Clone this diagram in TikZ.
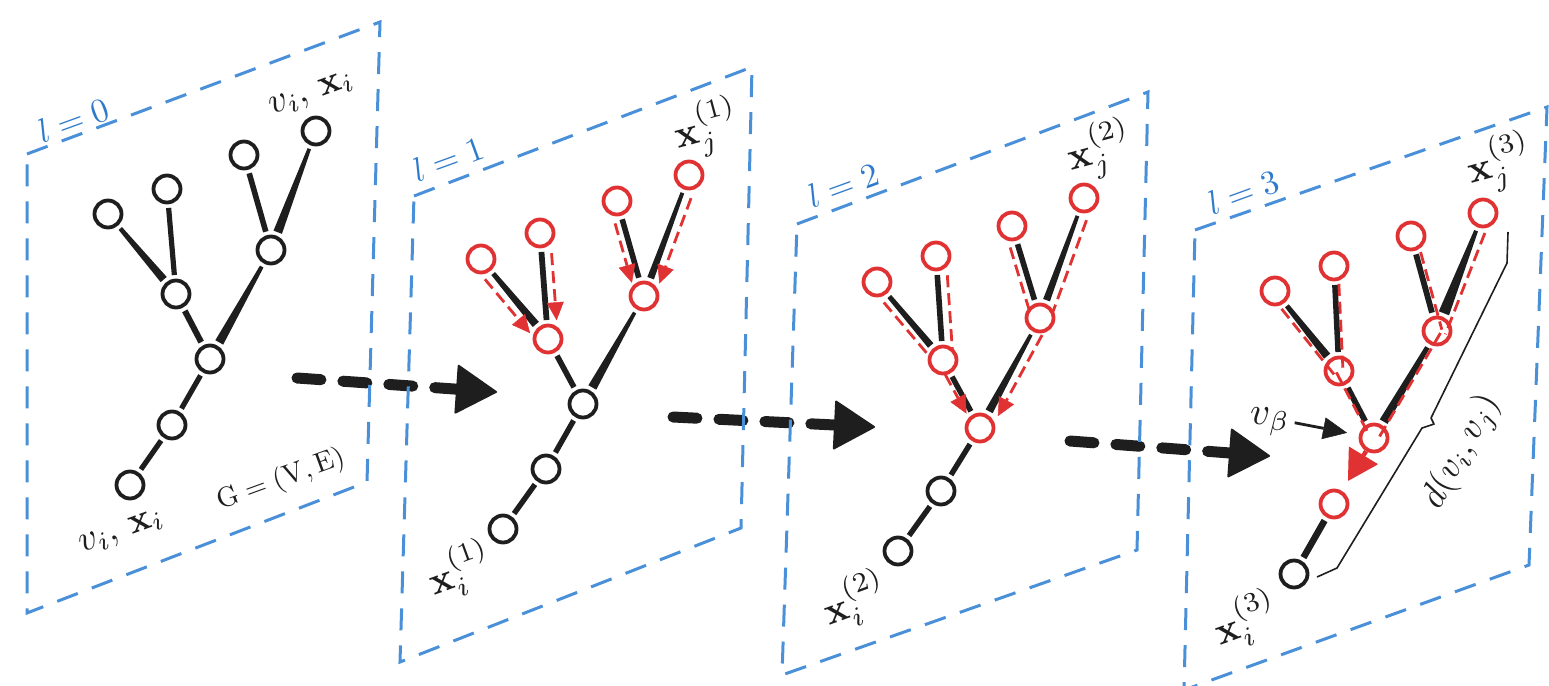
\documentclass[tikz,border=0pt]{standalone}
\usetikzlibrary{calc,arrows.meta}
\definecolor{ink}{HTML}{1E1E1E}
\definecolor{msgred}{HTML}{E03232}
\definecolor{planeblue}{HTML}{4A90D9}
\definecolor{labelblue}{HTML}{2F7BCB}
% tapered black edge between two nodes: from, to, half width at from, half width at to
\newcommand\tedge[4]{%
  \path ($(#1)!19pt!(#2)$) coordinate (tS) ($(#2)!19pt!(#1)$) coordinate (tE);
  \fill[ink] ($(tS)!#3!90:(tE)$) -- ($(tE)!#4!-90:(tS)$) -- ($(tE)!#4!90:(tS)$) -- ($(tS)!#3!-90:(tE)$) -- cycle;}
% red message line parallel to an edge: [style]{from}{to}{offset}{side angle}{shorten start}{shorten end}
\newcommand\mline[7][msg]{%
  \path ($(#2)!#4!#5:(#3)$) coordinate (mS);
  \path ($(#3)+(mS)-(#2)$) coordinate (mE);
  \draw[#1,shorten <=#6,shorten >=#7] (mS) -- (mE);}
\begin{document}
\begin{tikzpicture}[x=1pt,y=-1pt,
  vtx/.style={circle,draw=ink,line width=3.8pt,minimum size=27pt,inner sep=0pt},
  rvtx/.style={vtx,draw=msgred},
  plane/.style={draw=planeblue,line width=3pt,dash pattern=on 22pt off 15pt},
  lvl/.style={text=labelblue,scale=3.4,rotate=20,inner sep=0pt},
  lab/.style={text=ink,inner sep=0pt},
  bigarrow/.style={draw=ink,line width=11pt,line cap=round,dash pattern=on 24pt off 22pt,
    -{Triangle[length=42pt 0 0,width=50pt 0 0,line width=2pt,round]}},
  msg/.style={draw=msgred,line width=2.8pt,dash pattern=on 12pt off 6pt},
  msghead/.style={msg,-{Triangle[length=18pt 0 0,width=17pt 0 0,line width=0.5pt]}},
]
\useasboundingbox (0,0) rectangle (1549,685);

% big transition arrows
\coordinate (ar1s) at (297,378); \coordinate (ar1e) at (497,392);
\coordinate (ar2s) at (673,417); \coordinate (ar2e) at (875,427);
\coordinate (ar3s) at (1070,441); \coordinate (ar3e) at (1270,456);
\draw[bigarrow] (ar1s) -- (ar1e);
\draw[bigarrow] (ar2s) -- (ar2e);
\draw[bigarrow] (ar3s) -- (ar3e);

% planes
\draw[plane] (27,154) -- (380,22) -- (367,482) -- (27,613) -- cycle;
\draw[plane] (414,196) -- (752,67) -- (741,528) -- (400,662) -- cycle;
\draw[plane] (797,224) -- (1148,92) -- (1137,550) -- (782,675) -- cycle;
\draw[plane] (1195,230) -- (1547,107) -- (1529,565) -- (1184,690) -- cycle;

% ---------- panel l=0 ----------
\node[vtx] (p0n1) at (130,485) {};
\node[vtx] (p0n2) at (172,425) {};
\node[vtx] (p0n3) at (210,359) {};
\node[vtx] (p0n4) at (176,294) {};
\node[vtx] (p0n5) at (271,250) {};
\node[vtx] (p0la) at (108,214) {};
\node[vtx] (p0lb) at (167,189) {};
\node[vtx] (p0lc) at (244,155) {};
\node[vtx] (p0ld) at (316,131) {};
\tedge{p0n1}{p0n2}{2.6pt}{2.6pt}
\tedge{p0n2}{p0n3}{2.6pt}{2.6pt}
\tedge{p0n4}{p0n3}{3pt}{3pt}
\tedge{p0n5}{p0n3}{2pt}{4.5pt}
\tedge{p0la}{p0n4}{2.2pt}{4pt}
\tedge{p0lb}{p0n4}{2.6pt}{2.6pt}
\tedge{p0lc}{p0n5}{2.8pt}{2.8pt}
\tedge{p0ld}{p0n5}{1.8pt}{4.5pt}
\node[lvl] (p0lev) at (73,120) {$l = 0$};
\node[lab,scale=3.7,rotate=20] (p0top) at (312,95) {$v_i,\,\mathbf{x}_i$};
\node[lab,scale=3.7,rotate=20] (p0bot) at (122,533) {$v_i,\,\mathbf{x}_i$};
\node[lab,scale=2.8,rotate=20] (p0g) at (281,480) {$\mathrm{G} = (\mathrm{V}, \mathrm{E})$};

% ---------- panel l=1 ----------
\node[vtx] (p1n1) at (503,529) {};
\node[vtx] (p1n2) at (546,469) {};
\node[vtx] (p1n3) at (583,404) {};
\node[rvtx] (p1n4) at (548,339) {};
\node[rvtx] (p1n5) at (644,296) {};
\node[rvtx] (p1la) at (481,259) {};
\node[rvtx] (p1lb) at (540,233) {};
\node[rvtx] (p1lc) at (617,201) {};
\node[rvtx] (p1ld) at (689,175) {};
\tedge{p1n1}{p1n2}{2.7pt}{2.7pt}
\tedge{p1n2}{p1n3}{2.7pt}{2.7pt}
\tedge{p1n4}{p1n3}{2.8pt}{2.8pt}
\tedge{p1n5}{p1n3}{1.8pt}{4.5pt}
\tedge{p1la}{p1n4}{2.4pt}{4pt}
\tedge{p1lb}{p1n4}{2.9pt}{2.9pt}
\tedge{p1lc}{p1n5}{2.8pt}{2.8pt}
\tedge{p1ld}{p1n5}{1.9pt}{3.5pt}
\mline[msghead]{p1la}{p1n4}{10pt}{-90}{18pt}{16pt}
\mline[msghead]{p1lb}{p1n4}{10pt}{90}{21pt}{18pt}
\mline[msghead]{p1lc}{p1n5}{8pt}{-90}{21pt}{16pt}
\mline[msghead]{p1ld}{p1n5}{10pt}{90}{21pt}{17pt}
\node[lvl] (p1lev) at (448,159) {$l = 1$};
\node[lab,scale=3.9,rotate=15] (p1xj) at (707,128) {$\mathbf{x}_j^{(1)}$};
\node[lab,scale=3.9,rotate=20] (p1xi) at (460,570) {$\mathbf{x}_i^{(1)}$};

% ---------- panel l=2 ----------
\node[vtx] (p2n1) at (898,551) {};
\node[vtx] (p2n2) at (941,491) {};
\node[rvtx] (p2n3) at (980,428) {};
\node[rvtx] (p2n4) at (943,360) {};
\node[rvtx] (p2n5) at (1040,318) {};
\node[rvtx] (p2la) at (877,282) {};
\node[rvtx] (p2lb) at (936,256) {};
\node[rvtx] (p2lc) at (1012,226) {};
\node[rvtx] (p2ld) at (1084,198) {};
\tedge{p2n1}{p2n2}{2.7pt}{2.7pt}
\tedge{p2n2}{p2n3}{2.7pt}{2.7pt}
\tedge{p2n4}{p2n3}{2.7pt}{2.7pt}
\tedge{p2n5}{p2n3}{1.9pt}{4pt}
\tedge{p2la}{p2n4}{2.4pt}{3.5pt}
\tedge{p2lb}{p2n4}{2.8pt}{2.8pt}
\tedge{p2lc}{p2n5}{2.8pt}{2.8pt}
\tedge{p2ld}{p2n5}{1.9pt}{3.6pt}
\mline{p2la}{p2n4}{8pt}{-90}{20pt}{14pt}
\mline{p2lb}{p2n4}{10pt}{90}{20pt}{8pt}
\mline{p2lc}{p2n5}{8pt}{-90}{20pt}{10pt}
\mline{p2ld}{p2n5}{10pt}{90}{20pt}{10pt}
\mline[msghead]{p2n4}{p2n3}{5pt}{-90}{14pt}{19pt}
\mline[msghead]{p2n5}{p2n3}{10pt}{90}{14pt}{19pt}
\node[lvl] (p2lev) at (843,185) {$l = 2$};
\node[lab,scale=3.9,rotate=15] (p2xj) at (1100,150) {$\mathbf{x}_j^{(2)}$};
\node[lab,scale=3.9,rotate=20] (p2xi) at (855,600) {$\mathbf{x}_i^{(2)}$};

% ---------- panel l=3 ----------
\node[vtx] (p3n1) at (1294,574) {};
\node[rvtx] (p3n2) at (1334,504) {};
\node[rvtx] (p3n3) at (1374,438) {};
\node[rvtx] (p3n4) at (1339,371) {};
\node[rvtx] (p3n5) at (1437,331) {};
\node[rvtx] (p3la) at (1275,291) {};
\node[rvtx] (p3lb) at (1334,266) {};
\node[rvtx] (p3lc) at (1411,236) {};
\node[rvtx] (p3ld) at (1483,213) {};
\tedge{p3n1}{p3n2}{3.3pt}{3.3pt}
\tedge{p3n4}{p3n3}{2.9pt}{2.9pt}
\tedge{p3n5}{p3n3}{2.4pt}{4.5pt}
\tedge{p3la}{p3n4}{2.4pt}{4pt}
\tedge{p3lb}{p3n4}{2.8pt}{2.8pt}
\tedge{p3lc}{p3n5}{2.9pt}{2.9pt}
\tedge{p3ld}{p3n5}{2pt}{5.5pt}
\mline{p3la}{p3n4}{6pt}{-90}{18pt}{0pt}
\mline{p3n4}{p3n3}{3pt}{-90}{0pt}{4pt}
\mline{p3lb}{p3n4}{4pt}{90}{18pt}{0pt}
\mline{p3lc}{p3n5}{5pt}{90}{18pt}{0pt}
\mline{p3ld}{p3n5}{9pt}{90}{18pt}{0pt}
\mline{p3n5}{p3n3}{4pt}{90}{0pt}{4pt}
\draw[msgred,line width=4.5pt,shorten <=0pt,shorten >=12pt,
  -{Triangle[length=30pt 0 0,width=34pt 0 0,line width=1pt,round]}] (p3n3) -- (p3n2);
\node[lvl] (p3lev) at (1243,192) {$l = 3$};
\node[lab,scale=3.9,rotate=15] (p3xj) at (1500,163) {$\mathbf{x}_j^{(3)}$};
\node[lab,scale=3.9,rotate=20] (p3xi) at (1246,620) {$\mathbf{x}_i^{(3)}$};
\node[lab,scale=3.9] (vb) at (1270,422) {$v_\beta$};
\draw[ink,line width=2.8pt,shorten <=4pt,shorten >=12pt,
  -{Triangle[length=24pt 0 0,width=22pt 0 0,line width=0.5pt]}] (vb.east) -- (p3n3);
% brace d(v_i, v_j)
\draw[ink,line width=1.6pt,line join=round]
  (1317,577) -- (1337,568) -- (1422,428) -- (1434,424) -- (1431,418) -- (1507,263) -- (1508,232);
\node[lab,scale=3.6,rotate=61] (dlab) at (1462,452) {$d(v_i, v_j)$};
\end{tikzpicture}
\end{document}
